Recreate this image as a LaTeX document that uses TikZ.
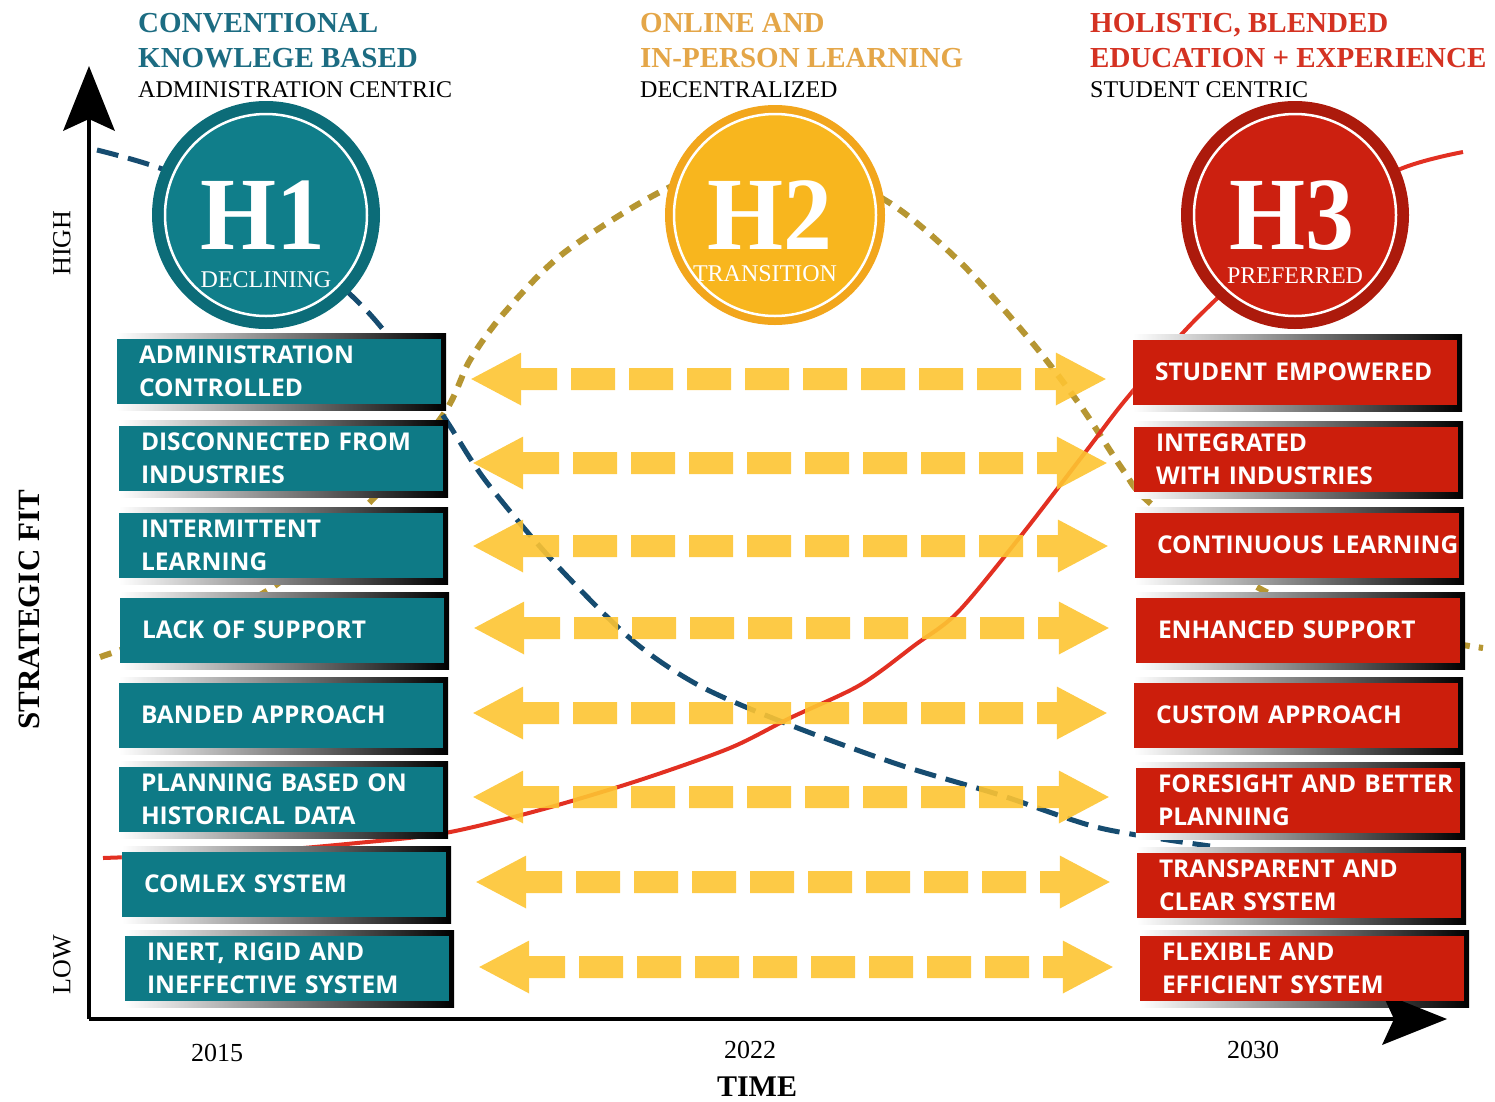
\documentclass[tikz,border=0pt]{standalone}
\usepackage{fontspec}
\setmainfont{Liberation Serif}
\newfontfamily\boxfont{Open Sans}
\usetikzlibrary{arrows.meta,backgrounds}

\definecolor{boxteal}{RGB}{14,122,134}
\definecolor{boxred}{RGB}{204,30,12}
\definecolor{headteal}{RGB}{28,108,130}
\definecolor{headgold}{RGB}{228,166,72}
\definecolor{headred}{RGB}{212,50,34}
\definecolor{hteal}{RGB}{16,126,138}
\definecolor{htealdark}{RGB}{12,108,120}
\definecolor{hgold}{RGB}{248,182,30}
\definecolor{hgolddark}{RGB}{242,166,28}
\definecolor{hred}{RGB}{204,32,16}
\definecolor{hreddark}{RGB}{172,26,12}
\definecolor{flowyellow}{RGB}{253,196,50}
\definecolor{declineblue}{RGB}{22,76,112}
\definecolor{transolive}{RGB}{182,150,50}
\definecolor{prefred}{RGB}{226,48,34}

\tikzset{
  lbox/.style={fill=boxteal, text=white, text width=280pt, inner xsep=22pt,
    inner ysep=0pt, minimum height=65pt, align=left,
    font=\boxfont\bfseries\fontsize{24.5}{33}\selectfont},
  rbox/.style={lbox, fill=boxred},
  flow/.style={flowyellow, line width=22pt, dash pattern=on 44pt off 14pt,
    dash phase=8pt, >={Triangle[length=50pt,width=53pt,line width=0pt]}, <->,
    shorten <=30pt, shorten >=27pt},
  axisline/.style={line width=4pt,
    -{Stealth[length=65pt,width=52pt,inset=12pt,line width=0pt]}},
  headbold/.style={anchor=base west, inner sep=0pt,
    font=\bfseries\fontsize{29}{29}\selectfont},
  headsub/.style={anchor=base west, inner sep=0pt,
    font=\fontsize{24}{24}\selectfont},
  hdisc/.style={circle, minimum size=228pt, inner sep=0pt},
  hinner/.style={circle, minimum size=202pt, inner sep=0pt, draw=white,
    line width=2.5pt},
  hbig/.style={anchor=base, text=white, inner sep=0pt, xscale=0.94,
    font=\bfseries\fontsize{104}{104}\selectfont},
  hsmall/.style={anchor=base, text=white, inner sep=0pt,
    font=\fontsize{24}{24}\selectfont}
}

\begin{document}
\begin{tikzpicture}[x=1pt,y=-1pt]
  \useasboundingbox (0,0) rectangle (1495,1101);

  % headers
  \node[headbold, text=headteal] (c1a) at (138,32) {CONVENTIONAL};
  \node[headbold, text=headteal] (c1b) at (138,67) {KNOWLEGE BASED};
  \node[headsub] (c1c) at (138,97) {ADMINISTRATION CENTRIC};
  \node[headbold, text=headgold] (c2a) at (640,32) {ONLINE AND};
  \node[headbold, text=headgold] (c2b) at (640,67) {IN-PERSON LEARNING};
  \node[headsub] (c2c) at (640,97) {DECENTRALIZED};
  \node[headbold, text=headred] (c3a) at (1090,32) {HOLISTIC, BLENDED};
  \node[headbold, text=headred] (c3b) at (1090,67) {EDUCATION + EXPERIENCE};
  \node[headsub] (c3c) at (1090,97) {STUDENT CENTRIC};

  % axes
  \coordinate (O) at (89,1019);
  \coordinate (ytop) at (89,66);
  \coordinate (xend) at (1447,1019);
  \draw[axisline] (O) -- (ytop);
  \draw[axisline] (O) -- (xend);

  \node[rotate=90, font=\fontsize{26}{26}\selectfont] (high) at (62,243) {HIGH};
  \node[rotate=90, font=\fontsize{26}{26}\selectfont] (low) at (62,965) {LOW};
  \node[rotate=90, font=\bfseries\fontsize{31}{31}\selectfont] (fit) at (29,610) {STRATEGIC FIT};
  \node[font=\fontsize{26}{26}\selectfont] (y15) at (217,1053) {2015};
  \node[font=\fontsize{26}{26}\selectfont] (y22) at (750,1050) {2022};
  \node[font=\fontsize{26}{26}\selectfont] (y30) at (1253,1050) {2030};
  \node[font=\bfseries\fontsize{30}{30}\selectfont] (time) at (757,1087) {TIME};

  % horizon circles
  \node[hdisc, fill=htealdark] (h1) at (266,215) {};
  \node[hinner, fill=hteal] (h1in) at (h1) {};
  \node[hbig] (h1t) at ([xshift=-3pt,yshift=-34pt]h1.center) {H1};
  \node[hsmall] (h1s) at ([yshift=-72pt]h1.center) {DECLINING};

  \node[hdisc, minimum size=220pt, fill=hgolddark] (h2) at (775,215) {};
  \node[hinner, fill=hgold] (h2in) at (h2) {};
  \node[hbig] (h2t) at ([xshift=-5pt,yshift=-34pt]h2.center) {H2};
  \node[hsmall] (h2s) at ([xshift=-10pt,yshift=-66pt]h2.center) {TRANSITION};

  \node[hdisc, fill=hreddark] (h3) at (1295,215) {};
  \node[hinner, fill=hred] (h3in) at (h3) {};
  \node[hbig] (h3t) at ([xshift=-3pt,yshift=-34pt]h3.center) {H3};
  \node[hsmall] (h3s) at ([yshift=-68pt]h3.center) {PREFERRED};

  % today
  \node[lbox] (L1) at (279,371) {ADMINISTRATION\\CONTROLLED};
  \node[lbox] (L2) at (281,458) {DISCONNECTED FROM\\INDUSTRIES};
  \node[lbox] (L3) at (281,545) {INTERMITTENT\\LEARNING};
  \node[lbox] (L4) at (282,630) {LACK OF SUPPORT};
  \node[lbox] (L5) at (281,715) {BANDED APPROACH};
  \node[lbox] (L6) at (281,799) {PLANNING BASED ON\\HISTORICAL DATA};
  \node[lbox] (L7) at (284,884) {COMLEX SYSTEM};
  \node[lbox] (L8) at (287,968) {INERT, RIGID AND\\INEFFECTIVE SYSTEM};

  % future
  \node[rbox] (R1) at (1295,372) {STUDENT EMPOWERED};
  \node[rbox] (R2) at (1296,459) {INTEGRATED\\WITH INDUSTRIES};
  \node[rbox] (R3) at (1297,545) {\mbox{CONTINUOUS LEARNING}};
  \node[rbox] (R4) at (1298,630) {ENHANCED SUPPORT};
  \node[rbox] (R5) at (1296,715) {CUSTOM APPROACH};
  \node[rbox] (R6) at (1298,800) {\mbox{FORESIGHT AND BETTER}\\PLANNING};
  \node[rbox] (R7) at (1299,885) {TRANSPARENT AND\\CLEAR SYSTEM};
  \node[rbox] (R8) at (1302,968) {FLEXIBLE AND\\EFFICIENT SYSTEM};

  \begin{scope}[on background layer]
    % horizon curves
    \draw[transolive, line width=6pt, dash pattern=on 12pt off 9pt]
      plot[smooth] coordinates {(100,657) (190,625) (273,587) (370,502)
        (443,415) (470,360) (505,312) (565,252) (668,188) (775,152)
        (885,200) (960,262) (1030,340) (1080,405) (1123,470) (1150,503)
        (1257,587) (1370,628) (1483,648)};
    \draw[declineblue, line width=5pt, dash pattern=on 22pt off 10pt]
      plot[smooth] coordinates {(97,150) (170,172) (260,220) (340,285)
        (385,332) (444,417) (485,480) (552,560) (632,640) (700,686)
        (790,725) (900,765) (1000,795) (1100,828) (1210,846)};
    \draw[prefred, line width=4pt]
      plot[smooth] coordinates {(103,858) (250,852) (357,843) (445,833)
        (540,810) (640,780) (730,748) (790,718) (860,685) (915,645)
        (958,612) (1020,537) (1087,450) (1127,398) (1197,318) (1300,225)
        (1398,170) (1463,152)};
    % box shadows
    \foreach \b in {L1,L2,L3,L4,L5,L6,L7,L8,R1,R2,R3,R4,R5,R6,R7,R8}
      \shade[left color=white, right color=black]
        ([yshift=5pt]\b.north west) rectangle ([xshift=5pt,yshift=-7pt]\b.south east);
  \end{scope}

  % transition arrows
  \begin{scope}[transparency group, opacity=0.9]
    \foreach \k/\dy in {1/-8,2/-5,3/-1,4/2,5/2,6/2,7/2,8/1}
      \draw[flow] ([yshift=\dy pt]L\k.east) -- ([yshift=\dy pt]L\k.east -| R\k.west);
  \end{scope}
\end{tikzpicture}
\end{document}
